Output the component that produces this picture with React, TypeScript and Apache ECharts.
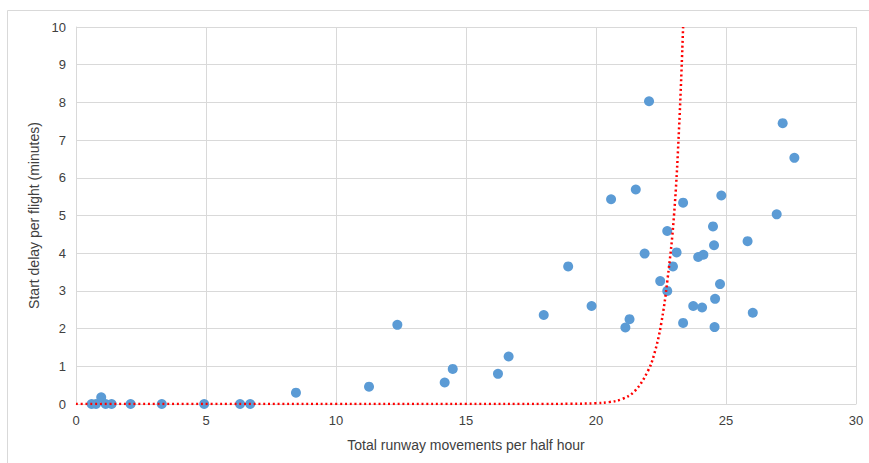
import React, { useEffect, useRef } from "react";
import * as echarts from "echarts";

const scatterX = [0.6, 0.77, 0.97, 1.14, 1.37, 2.1, 3.3, 4.93, 6.31, 6.7, 8.46, 11.27, 12.36, 14.18, 14.49, 16.23, 16.64, 17.99, 18.93, 19.83, 20.58, 21.13, 21.29, 21.53, 21.87, 22.04, 22.47, 22.74, 22.74, 22.96, 23.1, 23.35, 23.35, 23.74, 23.93, 24.08, 24.13, 24.5, 24.54, 24.56, 24.58, 24.77, 24.82, 25.83, 26.03, 26.95, 27.18, 27.63];
const scatterY = [0, 0, 0.18, 0, 0, 0, 0, 0, 0, 0, 0.3, 0.46, 2.1, 0.57, 0.93, 0.8, 1.26, 2.36, 3.65, 2.6, 5.43, 2.03, 2.25, 5.69, 3.99, 8.03, 3.26, 4.59, 3.0, 3.65, 4.02, 5.34, 2.15, 2.6, 3.9, 2.56, 3.96, 4.71, 4.21, 2.04, 2.79, 3.18, 5.53, 4.32, 2.42, 5.03, 7.45, 6.53];

const trendX = [0, 5, 10, 15, 18, 19, 20, 20.5, 21, 21.5, 22, 22.25, 22.5, 22.75, 23, 23.2, 23.35];
const trendY = [0, 0, 0, 0, 0, 0.005, 0.02, 0.05, 0.13, 0.35, 0.88, 1.35, 2.1, 3.3, 5.0, 7.4, 10];

const xTicks = [0, 5, 10, 15, 20, 25, 30];
const yTicks = [0, 1, 2, 3, 4, 5, 6, 7, 8, 9, 10];

const xTitle = "Total runway movements per half hour";
const yTitle = "Start delay per flight (minutes)";

export default function App() {
  const ref = useRef<HTMLDivElement>(null);
  useEffect(() => {
    if (!ref.current) return;
    const chart = echarts.init(ref.current, undefined, { renderer: "svg" });
    const font = "Liberation Sans, Arial, sans-serif";
    chart.setOption({
      animation: false,
      backgroundColor: "#ffffff",
      textStyle: { fontFamily: font },
      graphic: [
        {
          type: "rect",
          shape: { x: 7.5, y: 10.5, width: 900, height: 500 },
          style: { fill: "none", stroke: "#d9d9d9", lineWidth: 1 },
          silent: true,
        },
      ],
      grid: { left: 76, right: 13, top: 27, bottom: 59, containLabel: false },
      xAxis: {
        type: "value",
        min: xTicks[0],
        max: xTicks[xTicks.length - 1],
        interval: 5,
        name: xTitle,
        nameLocation: "middle",
        nameGap: 34,
        nameTextStyle: { fontSize: 14, color: "#404040", fontFamily: font },
        axisLine: { show: true, lineStyle: { color: "#d9d9d9" } },
        axisTick: { show: false },
        axisLabel: { fontSize: 13, color: "#404040", margin: 10 },
        splitLine: { show: true, lineStyle: { color: "#d9d9d9" } },
      },
      yAxis: {
        type: "value",
        min: yTicks[0],
        max: yTicks[yTicks.length - 1],
        interval: 1,
        name: yTitle,
        nameLocation: "middle",
        nameGap: 33,
        nameTextStyle: { fontSize: 14, color: "#404040", fontFamily: font },
        axisLine: { show: true, lineStyle: { color: "#d9d9d9" } },
        axisTick: { show: false },
        axisLabel: { fontSize: 13, color: "#404040", margin: 10 },
        splitLine: { show: true, lineStyle: { color: "#d9d9d9" } },
      },
      series: [
        {
          type: "line",
          data: trendX.map((x, i) => [x, trendY[i]]),
          showSymbol: false,
          smooth: 0.4,
          lineStyle: { color: "#ff0000", width: 2.5, type: [2, 2.8] },
          z: 3,
        },
        {
          type: "scatter",
          data: scatterX.map((x, i) => [x, scatterY[i]]),
          symbol: "circle",
          symbolSize: 10,
          itemStyle: { color: "#5b9bd5", opacity: 1 },
          z: 2,
        },
      ],
    });
    return () => chart.dispose();
  }, []);
  return (
    <div
      ref={ref}
      style={{ position: "fixed", left: 0, top: 0, width: 869, height: 463 }}
    />
  );
}
